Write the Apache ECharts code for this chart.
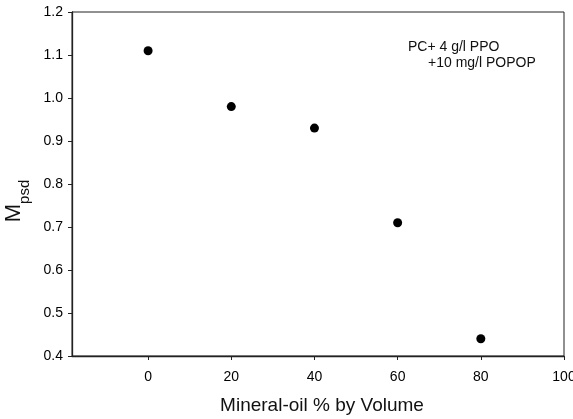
<!DOCTYPE html>
<html><head><meta charset="utf-8">
<script src="https://cdn.jsdelivr.net/npm/echarts@6/dist/echarts.min.js"></script>
<style>html,body{margin:0;padding:0;background:#fff}#c{width:573px;height:419px}</style>
</head><body><div id="c"></div>
<script>
const xValues = [0, 20, 40, 60, 80];
const mpsd = [1.11, 0.98, 0.93, 0.71, 0.44];
const xTicks = [0, 20, 40, 60, 80, 100];
const yTicks = [0.4, 0.5, 0.6, 0.7, 0.8, 0.9, 1.0, 1.1, 1.2];
const noteLines = ['PC+ 4 g/l PPO', '+10 mg/l POPOP'];

const chart = echarts.init(document.getElementById('c'));
const font = 'Liberation Sans, Arial, sans-serif';
chart.setOption({
  animation: false,
  grid: {left: 72, right: 9, top: 12, bottom: 63, show: true, borderColor: '#222', borderWidth: 1,
    outerBoundsMode: 'none', containLabel: false},
  xAxis: {
    type: 'value', min: -18.3, max: 100,
    name: 'Mineral-oil % by Volume', nameLocation: 'middle', nameGap: 40,
    nameTextStyle: {fontFamily: font, fontSize: 19, color: '#111', padding: [0, 0, 0, 8]},
    axisLine: {show: true, onZero: false, lineStyle: {color: '#222', width: 1.3}},
    axisTick: {show: true, length: 4, lineStyle: {color: '#222'}, customValues: xTicks},
    axisLabel: {fontFamily: font, fontSize: 14, color: '#000', margin: 14, customValues: xTicks},
    splitLine: {show: false}
  },
  yAxis: {
    type: 'value', min: 0.4, max: 1.2, interval: 0.1,
    name: '{m|M}{s|psd}', nameLocation: 'middle', nameGap: 40, nameRotate: 90,
    nameTextStyle: {fontFamily: font, color: '#111', padding: [0, 34, 0, 0], rich: {
      m: {fontFamily: font, fontSize: 22, color: '#111', lineHeight: 36, verticalAlign: 'middle'},
      s: {fontFamily: font, fontSize: 15, color: '#111', lineHeight: 16, verticalAlign: 'bottom'}
    }},
    axisLine: {show: true, onZero: false, lineStyle: {color: '#222', width: 1.3}},
    axisTick: {show: true, length: 4, lineStyle: {color: '#222'}, customValues: yTicks},
    axisLabel: {fontFamily: font, fontSize: 14, color: '#000', margin: 9, customValues: yTicks,
      formatter: v => v.toFixed(1)},
    splitLine: {show: false}
  },
  graphic: [
    {type: 'text', left: 408, top: 40, style: {text: noteLines[0], font: '14px ' + font, fill: '#111'}},
    {type: 'text', left: 428, top: 56, style: {text: noteLines[1], font: '14px ' + font, fill: '#111'}}
  ],
  series: [{
    type: 'scatter', symbol: 'circle', symbolSize: 9,
    itemStyle: {color: '#000', opacity: 1},
    data: xValues.map((x, i) => [x, mpsd[i]])
  }]
});
</script></body></html>
